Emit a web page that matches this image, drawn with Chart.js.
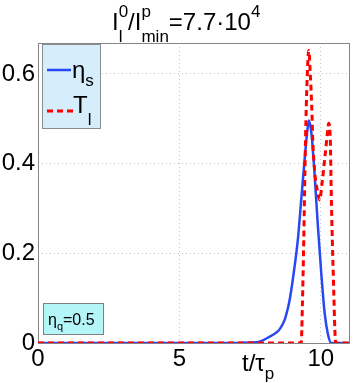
<!DOCTYPE html>
<html><head><meta charset="utf-8">
<script src="https://cdn.jsdelivr.net/npm/chart.js@4/dist/chart.umd.min.js"></script>
<style>html,body{margin:0;padding:0;background:#fff}canvas{display:block}</style>
</head><body>
<canvas id="c" width="357" height="383"></canvas>
<script>
// ---- data ----
const etaT = [0, 7.0, 7.5, 7.84, 8.19, 8.4, 8.55, 8.72, 8.84, 8.90, 9.02, 9.19, 9.31, 9.43, 9.53, 9.58, 9.67, 9.78, 9.90, 10.02, 10.14, 10.25, 10.37, 10.45, 11];
const etaV = [0, 0, 0.001, 0.003, 0.014, 0.022, 0.031, 0.051, 0.078, 0.096, 0.145, 0.23, 0.319, 0.409, 0.476, 0.496, 0.468, 0.379, 0.26, 0.155, 0.066, 0.021, 0, 0, 0];
const tlT = [0, 9.31, 9.35, 9.40, 9.44, 9.49, 9.56, 9.58, 9.63, 9.68, 9.72, 9.79, 9.90, 9.96, 10.06, 10.15, 10.25, 10.28, 10.34, 10.37, 10.41, 10.46, 10.50, 10.53, 11];
const tlV = [0, 0, 0.08, 0.23, 0.38, 0.53, 0.645, 0.652, 0.60, 0.53, 0.45, 0.38, 0.334, 0.319, 0.364, 0.416, 0.476, 0.49, 0.45, 0.34, 0.23, 0.117, 0.028, 0, 0];
const xTicks = [0, 5, 10];
const yTicks = [0, 0.2, 0.4, 0.6];
const seriesMain = ['η', 'T'];
const seriesSub = ['s', 'l'];
const annotMain = 'η', annotSub = 'q', annotRest = '=0.5';

const FF = "'Liberation Sans', Arial, Helvetica, sans-serif";
const BLUE = '#2848f4', RED = '#ff0000';

function f(sz){ return sz + 'px ' + FF; }
// draw a sequence of parts: {t, s(size), dy, stack:[sup,sub]}
function rich(ctx, x, y, parts){
  ctx.textBaseline = 'alphabetic'; ctx.textAlign = 'left';
  for (const p of parts){
    if (p.stack){
      let w = 0;
      ctx.font = f(p.s);
      for (const [txt, dy] of p.stack){ ctx.fillText(txt, x, y + dy); w = Math.max(w, ctx.measureText(txt).width); }
      x += w;
    } else {
      ctx.font = f(p.s);
      ctx.fillText(p.t, x, y + (p.dy || 0));
      x += ctx.measureText(p.t).width;
    }
  }
  return x;
}

const decor = {
  id: 'decor',
  beforeDatasetsDraw(chart){
    const {ctx, chartArea: a} = chart;
    ctx.save();
    ctx.strokeStyle = '#858585'; ctx.lineWidth = 1;
    ctx.strokeRect(Math.round(a.left) + 0.5, Math.round(a.top) + 0.5, Math.round(a.right - a.left), Math.round(a.bottom - a.top));
    ctx.restore();
  },
  afterDraw(chart){
    const {ctx} = chart;
    ctx.save();
    ctx.fillStyle = '#000';
    // title
    rich(ctx, 112, 30, [
      {t: 'I', s: 24},
      {s: 17, stack: [['0', -13], ['l', 12]]},
      {t: '/I', s: 24},
      {s: 17, stack: [['p', -13], ['min', 12]]},
      {t: '=7.7·10', s: 24},
      {t: '4', s: 17, dy: -13}
    ]);
    // x label
    rich(ctx, 242, 371, [{t: 't/τ', s: 24}, {t: 'p', s: 17, dy: 8}]);
    // legend box
    ctx.fillStyle = '#d6eefc'; ctx.strokeStyle = '#8c8c8c'; ctx.lineWidth = 1;
    ctx.fillRect(42.5, 44.5, 58, 84); ctx.strokeRect(42.5, 44.5, 58, 84);
    ctx.lineWidth = 2.5; ctx.strokeStyle = BLUE;
    ctx.beginPath(); ctx.moveTo(47, 70); ctx.lineTo(71, 70); ctx.stroke();
    ctx.lineWidth = 3; ctx.strokeStyle = RED; ctx.setLineDash([6, 4]);
    ctx.beginPath(); ctx.moveTo(47, 111); ctx.lineTo(73, 111); ctx.stroke();
    ctx.setLineDash([]);
    ctx.fillStyle = '#000';
    rich(ctx, 72, 78, [{t: seriesMain[0], s: 24}, {t: seriesSub[0], s: 17, dy: 8}]);
    rich(ctx, 73, 113, [{t: seriesMain[1], s: 24}, {t: seriesSub[1], s: 17, dy: 12}]);
    // annotation
    ctx.fillStyle = '#b4f6f8'; ctx.strokeStyle = '#808080'; ctx.lineWidth = 1;
    ctx.fillRect(43.5, 303.5, 60, 31); ctx.strokeRect(43.5, 303.5, 60, 31);
    ctx.fillStyle = '#000';
    rich(ctx, 48, 325, [{t: annotMain, s: 16}, {t: annotSub, s: 11, dy: 5}, {t: annotRest, s: 16}]);
    ctx.restore();
  }
};

const pts = (T, V) => T.map((t, i) => ({x: t, y: V[i]}));

new Chart(document.getElementById('c'), {
  type: 'line',
  data: {
    datasets: [
      {label: 'η_s', data: pts(etaT, etaV), borderColor: BLUE, borderWidth: 2.5, pointRadius: 0, cubicInterpolationMode: 'monotone', fill: false, order: 2},
      {label: 'T_l', data: pts(tlT, tlV), borderColor: RED, borderWidth: 3, borderDash: [6, 4], pointRadius: 0, cubicInterpolationMode: 'monotone', fill: false, order: 1}
    ]
  },
  options: {
    responsive: false, animation: false,
    layout: {padding: {top: 43, right: 8, left: 0, bottom: 0}},
    plugins: {legend: {display: false}, title: {display: false}, tooltip: {enabled: false}},
    scales: {
      x: {
        type: 'linear', min: 0, max: 11,
        afterBuildTicks: s => { s.ticks = xTicks.map(v => ({value: v})); },
        afterFit: s => { s.height = 40; },
        ticks: {font: {size: 24, family: FF}, color: '#000', padding: 2, maxRotation: 0, autoSkip: false},
        grid: {color: '#c4c4c4', drawTicks: false, lineWidth: 1},
        border: {display: false, dash: [1, 3]}
      },
      y: {
        type: 'linear', min: 0, max: 0.669,
        afterBuildTicks: s => { s.ticks = yTicks.map(v => ({value: v})); },
        afterFit: s => { s.width = 38; },
        ticks: {font: {size: 24, family: FF}, color: '#000', padding: 3, callback: v => String(Math.round(v * 10) / 10)},
        grid: {color: '#c4c4c4', drawTicks: false, lineWidth: 1},
        border: {display: false, dash: [1, 3]}
      }
    }
  },
  plugins: [decor]
});
</script>
</body></html>
